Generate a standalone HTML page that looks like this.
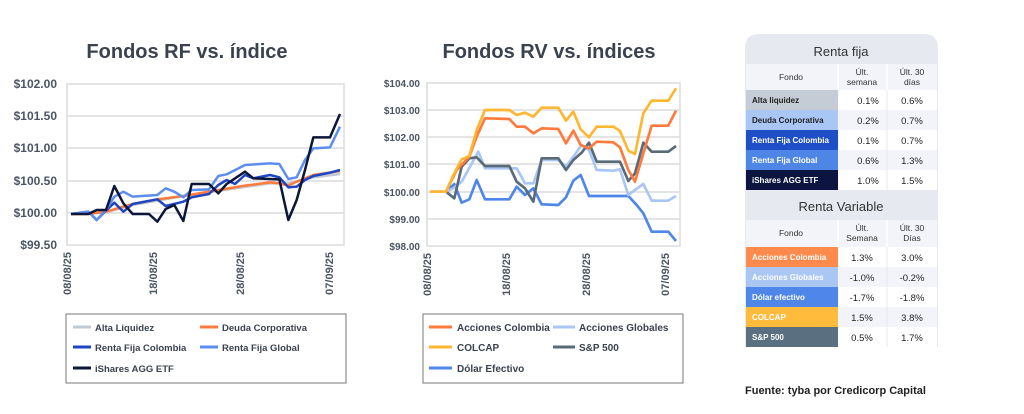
<!DOCTYPE html>
<html><head><meta charset="utf-8"><style>
body{margin:0;background:#fff;font-family:"Liberation Sans",sans-serif;}
svg text{font-family:"Liberation Sans",sans-serif;}
</style></head><body>
<svg width="1024" height="409" viewBox="0 0 1024 409" xmlns="http://www.w3.org/2000/svg">
<rect width="1024" height="409" fill="#fff"/>
<text x="187" y="58" text-anchor="middle" font-size="20" font-weight="bold" fill="#3a4250">Fondos RF vs. índice</text>
<text x="549" y="58" text-anchor="middle" font-size="20" font-weight="bold" fill="#3a4250">Fondos RV vs. índices</text>

<g stroke="#dcdcdc" stroke-width="1.5" fill="none">
<rect x="67" y="84" width="277" height="161"/>
<line x1="67" y1="116" x2="344" y2="116"/><line x1="67" y1="148" x2="344" y2="148"/>
<line x1="67" y1="181" x2="344" y2="181"/><line x1="67" y1="213" x2="344" y2="213"/>
</g>
<g font-size="12" font-weight="bold" fill="#4b5563" text-anchor="end">
<text x="57" y="88">$102.00</text><text x="57" y="120">$101.50</text><text x="57" y="152">$101.00</text>
<text x="57" y="185">$100.50</text><text x="57" y="217">$100.00</text><text x="57" y="249">$99.50</text>
</g>
<g font-size="11" font-weight="bold" fill="#4b5563" text-anchor="end">
<text transform="translate(71,252) rotate(-90)">08/08/25</text>
<text transform="translate(157,252) rotate(-90)">18/08/25</text>
<text transform="translate(244,252) rotate(-90)">28/08/25</text>
<text transform="translate(333,252) rotate(-90)">07/09/25</text>
</g>
<g transform="translate(0,60) scale(0.33333)" fill="none" stroke-width="7.5" stroke-linejoin="round">
<polyline stroke="#c3c9d2" points="213,462 318,457 398,435 550,408 705,385 810,370 865,370 940,352 1020,342"/>
<polyline stroke="#ff7a3c" points="213,462 265,462 318,455 398,432 472,418 550,408 627,395 735,377 810,367 838,370 865,377 890,365 940,345 1020,333"/>
<polyline stroke="#1e45c4" points="213,462 265,455 290,480 318,452 343,428 370,455 398,432 472,418 497,438 550,425 575,412 627,402 655,375 680,360 705,372 735,345 760,355 810,345 838,352 865,382 890,380 915,360 940,348 990,338 1020,330"/>
<polyline stroke="#5b8ef0" points="213,462 265,455 290,480 318,450 343,410 370,395 398,410 472,405 497,385 523,395 550,412 575,390 627,388 655,348 680,343 735,315 810,310 838,312 865,357 890,352 915,300 940,265 990,262 1020,200"/>
<polyline stroke="#0c1638" points="213,462 265,462 290,450 318,450 343,378 370,430 398,462 447,462 472,485 497,447 523,435 550,483 575,372 627,372 655,400 680,372 735,335 760,355 838,358 865,480 890,420 915,330 940,232 990,232 1020,162"/>
</g>

<g stroke="#dcdcdc" stroke-width="1.5" fill="none">
<rect x="427" y="83" width="253" height="163"/>
<line x1="427" y1="110" x2="680" y2="110"/><line x1="427" y1="137" x2="680" y2="137"/>
<line x1="427" y1="164" x2="680" y2="164"/><line x1="427" y1="192" x2="680" y2="192"/>
<line x1="427" y1="219" x2="680" y2="219"/>
</g>
<g font-size="10" font-weight="bold" fill="#4b5563" text-anchor="end">
<text x="420" y="87">$104.00</text><text x="420" y="114">$103.00</text><text x="420" y="141">$102.00</text>
<text x="420" y="168">$101.00</text><text x="420" y="196">$100.00</text><text x="420" y="223">$99.00</text><text x="420" y="250">$98.00</text>
</g>
<g font-size="11" font-weight="bold" fill="#4b5563" text-anchor="end">
<text transform="translate(431,253) rotate(-90)">08/08/25</text>
<text transform="translate(510,253) rotate(-90)">18/08/25</text>
<text transform="translate(590,253) rotate(-90)">28/08/25</text>
<text transform="translate(669,253) rotate(-90)">07/09/25</text>
</g>
<g transform="translate(370,60) scale(0.33333)" fill="none" stroke-width="8" stroke-linejoin="round">
<polyline stroke="#4f86ea" points="228,395 253,372 275,428 298,418 320,360 345,418 418,418 440,380 465,405 490,385 515,433 565,435 588,412 610,362 632,345 657,408 750,408 775,408 800,435 820,460 845,515 895,515 918,543"/>
<polyline stroke="#a9c6f5" points="228,395 250,385 275,365 300,320 325,275 345,325 418,325 440,325 465,370 490,370 515,300 565,300 588,320 610,290 635,255 657,270 680,330 730,332 750,328 775,405 795,390 820,372 845,422 895,422 918,408"/>
<polyline stroke="#5a6b78" points="228,395 253,415 275,320 298,295 320,292 345,318 418,318 440,365 465,385 490,425 515,295 565,295 588,330 610,300 635,278 657,248 680,305 750,305 775,363 795,340 820,248 845,275 895,275 918,258"/>
<polyline stroke="#ff7a3c" points="180,395 228,395 260,330 298,290 320,230 345,175 418,177 440,200 465,200 490,220 515,205 565,207 588,250 610,212 632,255 657,265 680,245 730,247 750,262 775,330 795,365 820,280 845,197 895,197 918,152"/>
<polyline stroke="#ffb630" points="180,395 228,395 250,345 275,298 298,288 320,210 345,150 418,150 440,165 465,158 490,170 515,143 565,143 588,182 610,155 632,208 657,232 680,200 730,200 750,213 775,272 795,282 820,160 845,122 895,122 918,85"/>
</g>

<rect x="66" y="314" width="280" height="69" fill="#fff" stroke="#777" stroke-width="1"/>
<g stroke-width="3">
<line x1="73" y1="327" x2="91" y2="327" stroke="#c3c9d2"/>
<line x1="200" y1="327" x2="218" y2="327" stroke="#ff7a3c"/>
<line x1="73" y1="347" x2="91" y2="347" stroke="#1e45c4"/>
<line x1="200" y1="347" x2="218" y2="347" stroke="#5b8ef0"/>
<line x1="73" y1="368" x2="91" y2="368" stroke="#0c1638"/>
</g>
<g font-size="9.5" font-weight="bold" fill="#3a4250">
<text x="95" y="331">Alta Liquidez</text><text x="222" y="331">Deuda Corporativa</text>
<text x="95" y="351">Renta Fija Colombia</text><text x="222" y="351">Renta Fija Global</text>
<text x="95" y="372">iShares AGG ETF</text>
</g>

<rect x="423" y="314" width="260" height="69" fill="#fff" stroke="#777" stroke-width="1"/>
<g stroke-width="3">
<line x1="429" y1="327" x2="452" y2="327" stroke="#ff7a3c"/>
<line x1="553" y1="327" x2="575" y2="327" stroke="#a9c6f5"/>
<line x1="429" y1="347" x2="452" y2="347" stroke="#ffb630"/>
<line x1="553" y1="347" x2="575" y2="347" stroke="#5a6b78"/>
<line x1="429" y1="368" x2="452" y2="368" stroke="#4f86ea"/>
</g>
<g font-size="10" font-weight="bold" fill="#3a4250">
<text x="457" y="331">Acciones Colombia</text><text x="579" y="331">Acciones Globales</text>
<text x="457" y="351">COLCAP</text><text x="579" y="351">S&amp;P 500</text>
<text x="457" y="372">Dólar Efectivo</text>
</g>

<path d="M745,48 Q745,34 759,34 L924,34 Q938,34 938,48 L938,347 L745,347 Z" fill="#e6e9f0"/>
<text x="841" y="56" text-anchor="middle" font-size="13" fill="#333">Renta fija</text>
<rect x="746" y="64" width="191" height="26" fill="#f2f4f9"/>
<g stroke="#fff" stroke-width="1.5">
<line x1="838" y1="64" x2="838" y2="190"/><line x1="887" y1="64" x2="887" y2="190"/>
<line x1="838" y1="220" x2="838" y2="347"/><line x1="887" y1="220" x2="887" y2="347"/>
</g>
<g font-size="8.5" fill="#333" text-anchor="middle">
<text x="791" y="80">Fondo</text>
<text x="862" y="75">Últ.</text><text x="862" y="85">semana</text>
<text x="912" y="75">Últ. 30</text><text x="912" y="85">días</text>
</g>
<rect x="746" y="90" width="92" height="20" fill="#c5ccd5"/>
<rect x="746" y="110" width="92" height="20" fill="#a9c6f5"/>
<rect x="746" y="130" width="92" height="20" fill="#1f4fc6"/>
<rect x="746" y="150" width="92" height="20" fill="#4e86e8"/>
<rect x="746" y="170" width="92" height="20" fill="#0b1540"/>
<rect x="839" y="90" width="98" height="20" fill="#fff"/>
<rect x="839" y="110" width="98" height="20" fill="#f2f4f9"/>
<rect x="839" y="130" width="98" height="20" fill="#fff"/>
<rect x="839" y="150" width="98" height="20" fill="#f2f4f9"/>
<rect x="839" y="170" width="98" height="20" fill="#fff"/>
<g stroke="#e6e9f0" stroke-width="1"><line x1="887" y1="90" x2="887" y2="190"/></g>
<g font-size="8" font-weight="bold">
<text x="752" y="103" fill="#222">Alta liquidez</text>
<text x="752" y="123" fill="#222">Deuda Corporativa</text>
<text x="752" y="143" fill="#fff">Renta Fija Colombia</text>
<text x="752" y="163" fill="#fff">Renta Fija Global</text>
<text x="752" y="183" fill="#fff">iShares AGG ETF</text>
</g>
<g font-size="9.5" fill="#222" text-anchor="middle">
<text x="868" y="104">0.1%</text><text x="912" y="104">0.6%</text>
<text x="868" y="124">0.2%</text><text x="912" y="124">0.7%</text>
<text x="868" y="144">0.1%</text><text x="912" y="144">0.7%</text>
<text x="868" y="164">0.6%</text><text x="912" y="164">1.3%</text>
<text x="868" y="184">1.0%</text><text x="912" y="184">1.5%</text>
</g>
<text x="841" y="211" text-anchor="middle" font-size="13" fill="#333">Renta Variable</text>
<rect x="746" y="220" width="191" height="27" fill="#f2f4f9"/>
<g stroke="#fff" stroke-width="1.5"><line x1="838" y1="220" x2="838" y2="247"/><line x1="887" y1="220" x2="887" y2="247"/></g>
<g font-size="8.5" fill="#333" text-anchor="middle">
<text x="791" y="236">Fondo</text>
<text x="862" y="231">Últ.</text><text x="862" y="241">Semana</text>
<text x="912" y="231">Últ. 30</text><text x="912" y="241">Días</text>
</g>
<rect x="746" y="247" width="92" height="20" fill="#ff8a4c"/>
<rect x="746" y="267" width="92" height="20" fill="#a9c6f5"/>
<rect x="746" y="287" width="92" height="20" fill="#4f86ea"/>
<rect x="746" y="307" width="92" height="20" fill="#ffbb3c"/>
<rect x="746" y="327" width="92" height="20" fill="#5a7080"/>
<rect x="839" y="247" width="98" height="20" fill="#fff"/>
<rect x="839" y="267" width="98" height="20" fill="#f2f4f9"/>
<rect x="839" y="287" width="98" height="20" fill="#fff"/>
<rect x="839" y="307" width="98" height="20" fill="#f2f4f9"/>
<rect x="839" y="327" width="98" height="20" fill="#fff"/>
<g stroke="#e6e9f0" stroke-width="1"><line x1="887" y1="247" x2="887" y2="347"/></g>
<g font-size="8" font-weight="bold" fill="#fff">
<text x="752" y="260">Acciones Colombia</text>
<text x="752" y="280">Acciones Globales</text>
<text x="752" y="300">Dólar efectivo</text>
<text x="752" y="320">COLCAP</text>
<text x="752" y="340">S&amp;P 500</text>
</g>
<g font-size="9.5" fill="#222" text-anchor="middle">
<text x="862" y="261">1.3%</text><text x="912" y="261">3.0%</text>
<text x="862" y="281">-1.0%</text><text x="912" y="281">-0.2%</text>
<text x="862" y="301">-1.7%</text><text x="912" y="301">-1.8%</text>
<text x="862" y="321">1.5%</text><text x="912" y="321">3.8%</text>
<text x="862" y="341">0.5%</text><text x="912" y="341">1.7%</text>
</g>
<text x="745" y="394" font-size="11" font-weight="bold" fill="#222">Fuente: tyba por Credicorp Capital</text>
</svg>
</body></html>
